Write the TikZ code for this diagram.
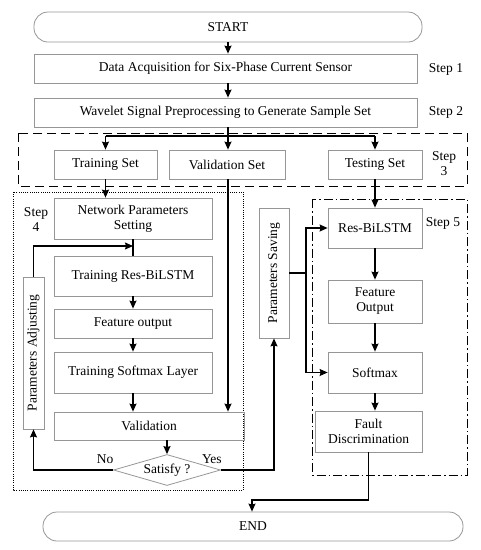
\documentclass[tikz,border=0pt]{standalone}
\usepackage{fontspec}
\setmainfont{Liberation Serif}
\usepackage{tikz}
\usetikzlibrary{arrows.meta,positioning,calc,shapes.geometric}
\definecolor{boxGray}{RGB}{150,150,150}

\begin{document}
\begin{tikzpicture}[x=1pt, y=-1pt, >={Stealth[length=8pt,width=7pt,inset=1pt]},
    font=\fontsize{13.5}{15}\selectfont,
    stage/.style={draw=boxGray, line width=0.8pt, align=center, inner sep=1pt},
    term/.style={stage, rounded corners=14pt},
    flow/.style={->, line width=1.1pt},
    link/.style={line width=1.1pt}]
    \useasboundingbox (0,0) rectangle (481,550);

    % main chain
    \node[term, minimum width=388pt, minimum height=30pt] (start) at (228,27) {START};
    \node[stage, minimum width=383pt, minimum height=29pt] (acq) at (225.5,68.5) {Data Acquisition for Six-Phase Current Sensor};
    \node[stage, minimum width=383pt, minimum height=29pt] (wave) at (225.5,112.5) {Wavelet Signal Preprocessing to Generate Sample Set};
    \node (s1) at (446,69) {Step 1};
    \node (s2) at (446,112) {Step 2};

    % step 3
    \draw[dashed, line width=1pt, dash pattern=on 9pt off 5pt] (18,133) rectangle (467,186);
    \node[stage, minimum width=103pt, minimum height=29pt] (trainset) at (105.5,164.5) {Training Set};
    \node[stage, minimum width=116pt, minimum height=29pt] (validset) at (227,164.5) {Validation Set};
    \node[stage, minimum width=94pt, minimum height=29pt] (testset) at (375,164.5) {Testing Set};
    \node[align=center] (s3) at (444,164) {Step\\3};

    % step 4
    \draw[dotted, line width=1pt, dash pattern=on 1pt off 1.2pt] (13,192) rectangle (243,490);
    \node[align=center] (s4) at (36,220) {Step\\4};
    \node[stage, minimum width=158pt, minimum height=41pt] (nps) at (133,218.5) {Network Parameters\\Setting};
    \node[stage, minimum width=158pt, minimum height=40pt] (trbl) at (133,276) {Training Res-BiLSTM};
    \node[stage, minimum width=158pt, minimum height=29pt] (featout) at (133,323.5) {Feature output};
    \node[stage, minimum width=158pt, minimum height=41pt] (trsoft) at (133,372.5) {Training Softmax Layer};
    \node[stage, minimum width=190pt, minimum height=28pt] (valid) at (149,426) {Validation};
    \node[draw=boxGray, line width=0.8pt, diamond, aspect=3.4, inner sep=0pt,
          minimum width=107pt, minimum height=31pt] (dia) at (167,470) {Satisfy ?};
    \node[stage, rotate=90, minimum width=152pt, minimum height=21pt] (padj) at (33.5,353) {Parameters Adjusting};
    \node[stage, rotate=90, minimum width=130pt, minimum height=30pt] (psave) at (274,273) {Parameters Saving};

    % step 5
    \draw[line width=1pt, dash pattern=on 9pt off 3pt on 1.5pt off 3pt] (312,199) rectangle (467,475);
    \node (s5) at (443,223) {Step 5};
    \node[stage, minimum width=94pt, minimum height=40pt] (resb) at (375,228) {Res-BiLSTM};
    \node[stage, minimum width=94pt, minimum height=43pt] (feat2) at (375,301.5) {Feature\\Output};
    \node[stage, minimum width=94pt, minimum height=41pt] (soft) at (375,372.5) {Softmax};
    \node[stage, minimum width=107pt, minimum height=41pt] (fault) at (368.5,431.5) {Fault\\Discrimination};
    \node[term, minimum width=420pt, minimum height=29pt] (end) at (253,526.5) {END};

    \coordinate (split) at (228,136);
    \coordinate (loop) at (133,246);
    \coordinate (fork) at (306,273);
    \coordinate (bend) at (252,500);

    % connectors
    \draw[flow] (start) -- (start |- acq.north);
    \draw[flow] (start |- acq.south) -- (start |- wave.north);
    \draw[link] (split |- wave.south) -- (split);
    \draw[link] (split -| trainset) -- (split -| testset);
    \draw[flow] (split -| trainset) -- (trainset);
    \draw[flow] (split) -- (split |- validset.north);
    \draw[flow] (split -| testset) -- (testset);
    \draw[flow] (trainset) -- (trainset |- nps.north);
    \draw[link] (nps) -- (trbl);
    \draw[flow] (padj.east) |- (loop);
    \draw[flow] (trbl) -- (featout);
    \draw[flow] (featout) -- (trsoft);
    \draw[flow] (trsoft) -- (trsoft |- valid.north);
    \draw[flow] (split |- validset.south) -- (split |- valid.north);
    \draw[flow] (dia.north |- valid.south) -- (dia.north);
    \draw[flow] (dia.west) -| node[pos=0.05, above=2pt]{No} (padj.west);
    \draw[flow] (dia.east) -| node[pos=0, above=2pt, xshift=-9pt]{Yes} (psave.west);
    \draw[link] (psave.south) -- (fork);
    \draw[flow] (fork) |- (resb.west);
    \draw[flow] (fork) |- (soft.west);
    \draw[flow] (testset) -- (resb);
    \draw[flow] (resb) -- (feat2);
    \draw[flow] (feat2) -- (soft);
    \draw[flow] (soft) -- (soft |- fault.north);
    \draw[flow] (fault.south) |- (bend) -- (end.north -| bend);
\end{tikzpicture}
\end{document}
